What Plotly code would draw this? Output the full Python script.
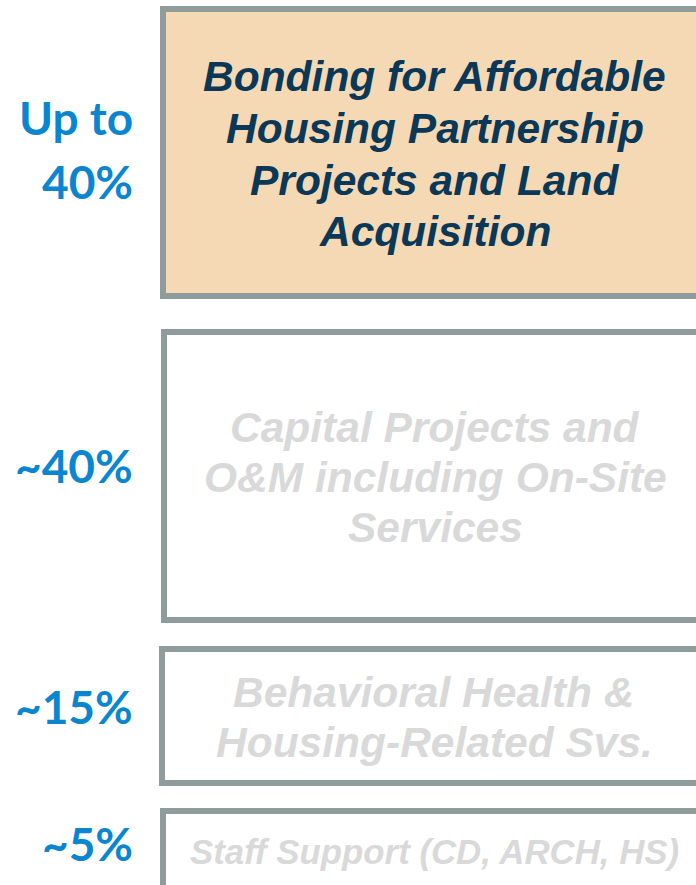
import plotly.graph_objects as go

# funding split, top to bottom
shares = [["Up to", "40%"], ["~40%"], ["~15%"], ["~5%"]]
descriptions = [
    ["Bonding for Affordable", "Housing Partnership", "Projects and Land", "Acquisition"],
    ["Capital Projects and", "O&M including On-Site", "Services"],
    ["Behavioral Health &", "Housing-Related Svs."],
    ["Staff Support (CD, ARCH, HS)"],
]
highlighted = [True, False, False, False]

W, H = 696, 885

# box geometry in pixels (y grows downwards); borders are 6px wide
boxes = [
    dict(x0=163, y0=9, x1=706, y1=296, text_y=[76, 128, 180, 231], label_y=[117, 181], size=42.5),
    dict(x0=164, y0=332, x1=706, y1=620, text_y=[427, 477, 527], label_y=[465], size=42.5),
    dict(x0=162, y0=649, x1=706, y1=783, text_y=[692, 742], label_y=[706], size=42.5),
    dict(x0=163, y0=811, x1=706, y1=890, text_y=[851], label_y=[843], size=34.8),
]

fig = go.Figure()
fig.add_trace(go.Scatter(x=[0, W], y=[0, H], mode="markers",
                         marker=dict(opacity=0), hoverinfo="skip", showlegend=False))

for b, share, desc, hi in zip(boxes, shares, descriptions, highlighted):
    fig.add_shape(type="rect", x0=b["x0"], x1=b["x1"], y0=b["y0"], y1=b["y1"],
                  line=dict(color="#8f9c9c", width=6),
                  fillcolor="#f4d9b4" if hi else "white", layer="below")
    for line, ty in zip(desc, b["text_y"]):
        fig.add_annotation(x=(b["x0"] + b["x1"]) / 2, y=ty, text=line,
                           showarrow=False, xanchor="center", yanchor="middle",
                           font=dict(family="Liberation Sans, Arial", size=b["size"],
                                     color="#0c3857" if hi else "#d9d9d9",
                                     weight="bold", style="italic"))
    for line, ly in zip(share, b["label_y"]):
        fig.add_annotation(x=135, y=ly, text=line, showarrow=False,
                           xanchor="right", yanchor="middle",
                           font=dict(family="Lato", size=46, color="#0a86d0", weight="bold"))

fig.update_layout(
    width=W, height=H,
    margin=dict(l=0, r=0, t=0, b=0),
    paper_bgcolor="white", plot_bgcolor="white",
    xaxis=dict(range=[0, W], visible=False, fixedrange=True),
    yaxis=dict(range=[H, 0], visible=False, fixedrange=True),
)

# drop the default page margin so the figure fills the window
fig.write_html("out.html", config={"displayModeBar": False},
               post_script="document.body.style.margin='0';")
